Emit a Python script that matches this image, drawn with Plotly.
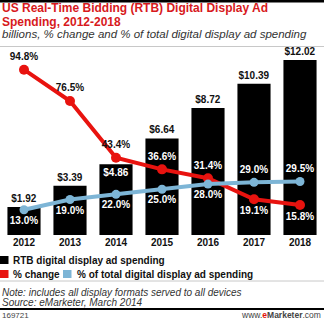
import plotly.graph_objects as go

# ---- data ----
years = ["2012", "2013", "2014", "2015", "2016", "2017", "2018"]
spending = [1.92, 3.39, 4.86, 6.64, 8.72, 10.39, 12.02]          # billions
pct_change = [94.8, 76.5, 43.4, 36.6, 31.4, 19.1, 15.8]           # % change
pct_total = [13.0, 19.0, 22.0, 25.0, 28.0, 29.0, 29.5]            # % of total digital display

spend_labels = ["$%.2f" % v for v in spending]
change_labels = ["%.1f%%" % v for v in pct_change]
total_labels = ["%.1f%%" % v for v in pct_total]

RED = "#e8130f"
BLUE = "#7db5d6"
TITLE_RED = "#d71920"
FONT = "Liberation Sans, Arial, sans-serif"

W, H = 324, 321
ML, MR, MT, MB = 1, 1, 55, 86
PH = H - MT - MB
PW = W - ML - MR


def py(p):
    """pixel row -> paper y"""
    return (H - MB - p) / PH


def px(p):
    """pixel column -> paper x"""
    return (p - ML) / PW


fig = go.Figure()

fig.add_trace(go.Bar(
    x=years, y=spending, name="RTB digital display ad spending",
    marker=dict(color="#000000", line=dict(width=0)), width=0.72,
    text=spend_labels,
    textposition=["outside", "outside", "inside", "outside", "outside", "outside", "outside"],
    insidetextanchor="end",
    cliponaxis=False, constraintext="none",
    insidetextfont=dict(family=FONT, size=10, color="#ffffff", weight="bold"),
    outsidetextfont=dict(family=FONT, size=10, color="#111111", weight="bold"),
    showlegend=False,
))

fig.add_trace(go.Scatter(
    x=years, y=pct_change, yaxis="y2", name="% change",
    mode="lines+markers+text",
    line=dict(color=RED, width=4), marker=dict(color=RED, size=10),
    text=change_labels,
    textposition=["top center"] * 5 + ["bottom center"] * 2,
    textfont=dict(family=FONT, size=10, weight="bold",
                  color=["#111111"] * 3 + ["#ffffff"] * 4),
    cliponaxis=False, showlegend=False,
))

fig.add_trace(go.Scatter(
    x=years, y=pct_total, yaxis="y2", name="% of total digital display ad spending",
    mode="lines+markers+text",
    line=dict(color=BLUE, width=4), marker=dict(color=BLUE, size=9),
    text=total_labels,
    textposition=["bottom center"] * 5 + ["top center"] * 2,
    textfont=dict(family=FONT, size=10, weight="bold", color="#ffffff"),
    cliponaxis=False, showlegend=False,
))

shapes = [
    dict(type="rect", xref="paper", yref="paper", x0=px(0), x1=px(W), y0=py(2.5), y1=py(0),
         fillcolor="#000000", line=dict(width=0), layer="above"),
    dict(type="line", xref="paper", yref="paper", x0=px(0), x1=px(W), y0=py(46.5), y1=py(46.5),
         line=dict(color="#c8c8c8", width=1)),
    dict(type="line", xref="paper", yref="paper", x0=px(0), x1=px(W), y0=py(281), y1=py(281),
         line=dict(color="#c8c8c8", width=1)),
    dict(type="rect", xref="paper", yref="paper", x0=px(0), x1=px(W), y0=py(310), y1=py(308),
         fillcolor="#000000", line=dict(width=0)),
    # legend squares
    dict(type="rect", xref="paper", yref="paper", x0=px(0), x1=px(8.5), y0=py(264), y1=py(256),
         fillcolor="#000000", line=dict(width=0)),
    dict(type="rect", xref="paper", yref="paper", x0=px(0), x1=px(8.5), y0=py(278), y1=py(270),
         fillcolor=RED, line=dict(width=0)),
    dict(type="rect", xref="paper", yref="paper", x0=px(63), x1=px(71.5), y0=py(278), y1=py(270),
         fillcolor=BLUE, line=dict(width=0)),
]


def ann(text, x, y, size, color="#222222", xanchor="left", weight="normal", style="normal"):
    return dict(text=text, xref="paper", yref="paper", x=px(x), y=py(y),
                xanchor=xanchor, yanchor="middle", showarrow=False,
                font=dict(family=FONT, size=size, color=color, weight=weight, style=style))


annotations = [
    ann("US Real-Time Bidding (RTB) Digital Display Ad", 0, 8, 12, TITLE_RED, weight="bold"),
    ann("Spending, 2012-2018", 0, 21.5, 12, TITLE_RED, weight="bold"),
    ann("billions, % change and % of total digital display ad spending", 0, 34.5, 11.5, "#333333", style="italic"),
    ann("RTB digital display ad spending", 11, 260, 10, "#111111", weight="bold"),
    ann("% change", 11, 274, 10, "#111111", weight="bold"),
    ann("% of total digital display ad spending", 75, 274, 10, "#111111", weight="bold"),
    ann("Note: includes all display formats served to all devices", 0, 292.5, 10, "#333333", style="italic"),
    ann("Source: eMarketer, March 2014", 0, 302, 10, "#333333", style="italic"),
    ann("169721", 0, 315, 8, "#444444"),
    ann('www.<span style="color:#e3120b"><b>e</b></span><b>Marketer</b>.com', W - 1, 315, 8.5,
        "#444444", xanchor="right"),
]

fig.update_layout(
    width=W, height=H,
    margin=dict(l=ML, r=MR, t=MT, b=MB),
    paper_bgcolor="#ffffff", plot_bgcolor="#ffffff",
    barmode="overlay",
    showlegend=False,
    xaxis=dict(type="category", range=[-0.5, 6.5], showgrid=False, zeroline=False,
               showline=False, ticks="", ticklabelstandoff=0,
               tickfont=dict(family=FONT, size=10, color="#111111", weight="bold")),
    yaxis=dict(range=[0, 12.37], visible=False, showgrid=False, zeroline=False),
    yaxis2=dict(range=[-1.75, 103.4], overlaying="y", visible=False, showgrid=False, zeroline=False),
    shapes=shapes,
    annotations=annotations,
)

fig.write_html("out.html")
